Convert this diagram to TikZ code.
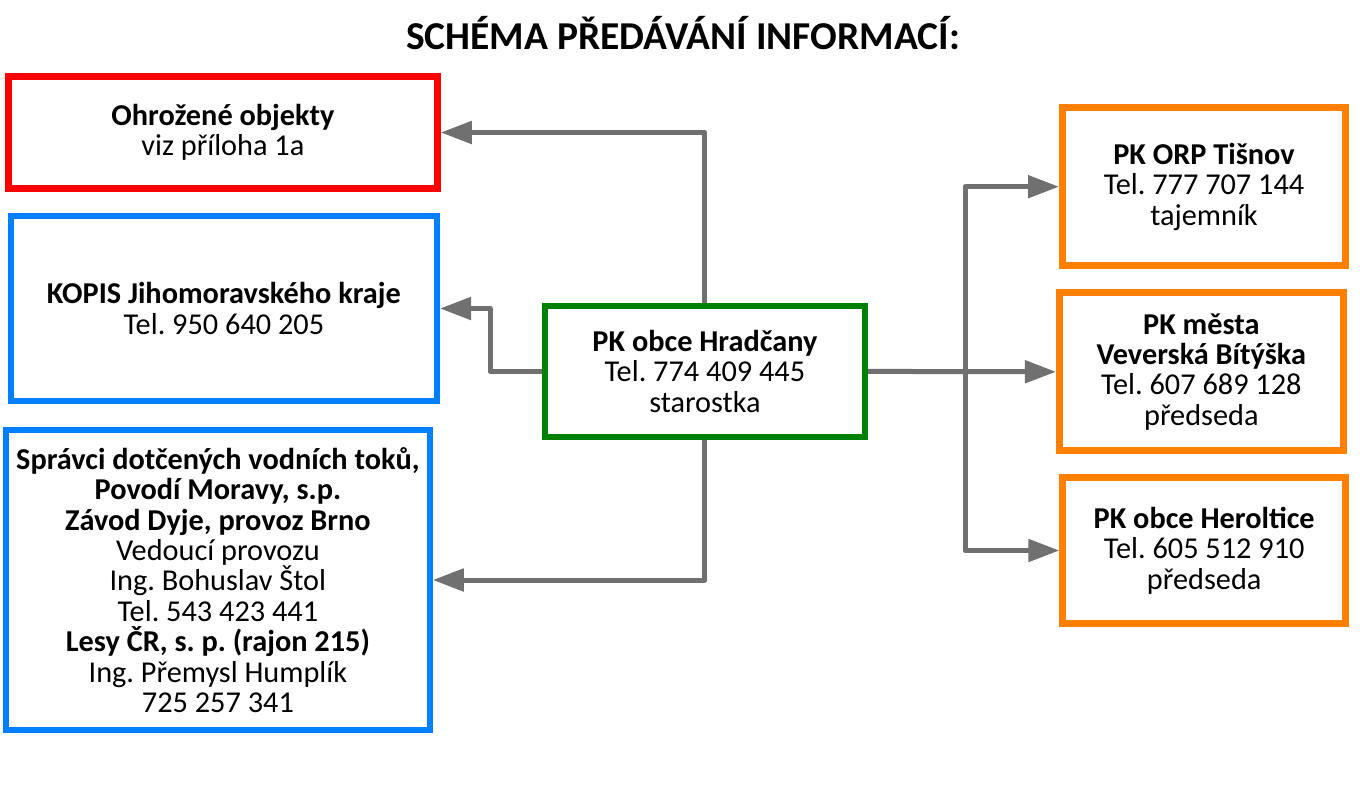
\documentclass[tikz,border=0pt]{standalone}
\usepackage{fontspec}
\setmainfont{Carlito}
\usetikzlibrary{arrows.meta}
\definecolor{cred}{RGB}{255,0,0}
\definecolor{cblue}{RGB}{0,128,255}
\definecolor{cgreen}{RGB}{0,128,0}
\definecolor{corange}{RGB}{255,128,0}
\definecolor{cgray}{RGB}{112,112,112}
\frenchspacing
\tikzset{
  boxbase/.style={draw, rectangle, inner sep=0pt, align=center, fill=white,
    font=\fontsize{30.3}{30.4}\selectfont},
  redbox/.style={boxbase, draw=cred, line width=7pt},
  bluebox/.style={boxbase, draw=cblue, line width=6pt},
  greenbox/.style={boxbase, draw=cgreen, line width=6.5pt},
  orangebox/.style={boxbase, draw=corange, line width=7pt},
  conn/.style={draw=cgray, line width=5pt, line join=round, -{Triangle[length=31pt,width=22pt]}},
  connplain/.style={draw=cgray, line width=5pt, line join=round},
  titletext/.style={font=\fontsize{39.5}{42}\selectfont\bfseries, inner sep=0pt}
}
\begin{document}
\begin{tikzpicture}[x=1pt,y=-1pt]
\useasboundingbox[fill=white] (0,0) rectangle (1360,787);
\node[titletext] (title) at (683,33) {SCHÉMA PŘEDÁVÁNÍ INFORMACÍ:};
\node[redbox, minimum width=428.7pt, minimum height=111.4pt] (red) at (222.9,132.5)
  {\textbf{Ohrožené objekty}\\viz příloha 1a};
\node[bluebox, minimum width=426.2pt, minimum height=185pt] (kopis) at (223.9,308.5)
  {\textbf{KOPIS Jihomoravského kraje}\\Tel. 950 640 205};
\node[bluebox, minimum width=423.7pt, minimum height=300.6pt] (spravci) at (217.9,580)
  {\textbf{Správci dotčených vodních toků,}\\\textbf{Povodí Moravy, s.p.}\\\textbf{Závod Dyje, provoz Brno}\\Vedoucí provozu\\Ing. Bohuslav Štol\\Tel. 543 423 441\\\textbf{Lesy ČR, s. p. (rajon 215)}\\Ing. Přemysl Humplík\\725 257 341};
\node[greenbox, minimum width=319.8pt, minimum height=130.8pt] (green) at (704.9,371.4)
  {\textbf{PK obce Hradčany}\\Tel. 774 409 445\\starostka};
\node[orangebox, minimum width=283pt, minimum height=158.3pt] (o1) at (1204,186.7)
  {\textbf{PK ORP Tišnov}\\Tel. 777 707 144\\tajemník};
\node[orangebox, minimum width=283.7pt, minimum height=158pt] (o2) at (1201.3,371.8)
  {\textbf{PK města}\\\textbf{Veverská Bítýška}\\Tel. 607 689 128\\předseda};
\node[orangebox, minimum width=282.7pt, minimum height=145.4pt] (o3) at (1204.2,550.5)
  {\textbf{PK obce Heroltice}\\Tel. 605 512 910\\předseda};
\coordinate (split) at (965,371.4);
\coordinate (kbend) at (490,371.4);
\draw[conn] (green.north) |- (red.east);
\draw[conn] (green.west) -- (kbend) |- (kopis.east);
\draw[conn] (green.south) |- (spravci.east);
\draw[conn] (green.east) -- (o2.west);
\draw[connplain] (split |- o1.west) -- (split |- o3.west);
\draw[conn] (split) |- (o1.west);
\draw[conn] (split) |- (o3.west);
\end{tikzpicture}
\end{document}
